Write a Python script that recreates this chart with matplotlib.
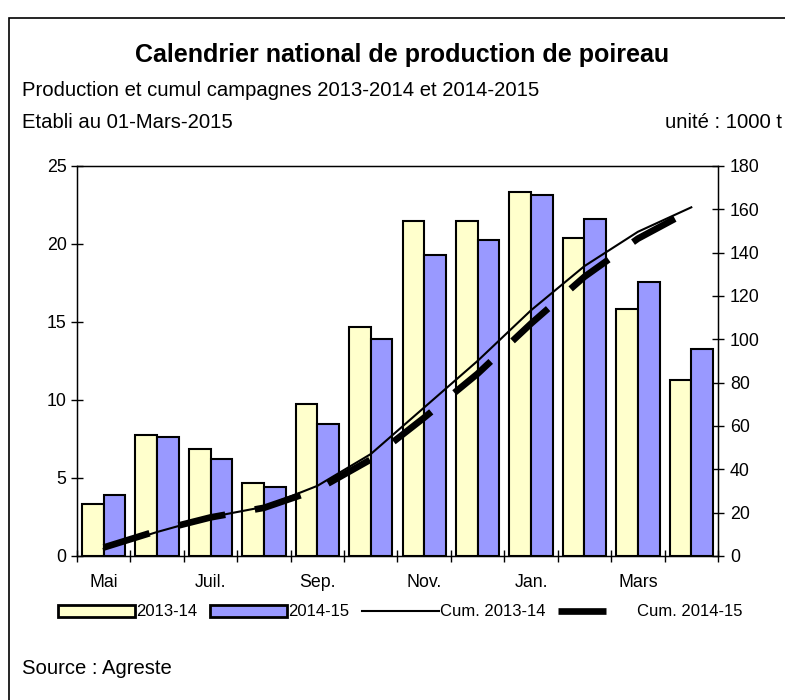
import matplotlib
matplotlib.use("Agg")
import numpy as np
from matplotlib import pyplot as plt
from matplotlib.patches import Rectangle, Patch
from matplotlib.lines import Line2D

plt.rcParams['font.family'] = ['Liberation Sans', 'DejaVu Sans']

months = ["Mai", "Juin", "Juil.", "Août", "Sep.", "Oct.", "Nov.", "Déc.",
          "Jan.", "Fév.", "Mars", "Avr."]
prod_1314 = [3.35, 7.73, 6.88, 4.70, 9.72, 14.68, 21.5, 21.5, 23.36, 20.38, 15.83, 11.3]
prod_1415 = [3.93, 7.65, 6.24, 4.42, 8.44, 13.89, 19.29, 20.28, 23.14, 21.6, 17.59, 13.25]
cum_1314 = np.cumsum(prod_1314)
cum_1415 = np.cumsum(prod_1415)

yellow = "#FFFFCC"
blue = "#9999FF"

fig = plt.figure(figsize=(7.85, 7.0), dpi=100)

# outer frame
fig.patches.append(Rectangle((9 / 785, -0.05), 1.0, 1 - 18 / 700 + 0.05,
                             transform=fig.transFigure, fill=False,
                             edgecolor="black", linewidth=1.2))

ax = fig.add_axes([77 / 785, 1 - 556 / 700, (718 - 77) / 785, (556 - 166) / 700])
x = np.arange(len(months))
w = 0.405
ax.bar(x - w / 2, prod_1314, w, color=yellow, edgecolor="black", linewidth=1.5, zorder=2)
ax.bar(x + w / 2, prod_1415, w, color=blue, edgecolor="black", linewidth=1.5, zorder=2)
ax.set_xlim(-0.5, 11.5)
ax.set_ylim(0, 25)
ax.set_yticks([0, 5, 10, 15, 20, 25])
ax.set_xticks(np.arange(-0.5, 12, 1))
ax.set_xticklabels([])
ax.set_xticks(x[::2], minor=True)
ax.set_xticklabels(months[::2], minor=True)
ax.tick_params(axis="x", which="major", direction="inout", length=9, width=1)
ax.tick_params(axis="x", which="minor", length=0, pad=13, labelsize=12.8)
ax.tick_params(axis="y", direction="inout", length=9, width=1, pad=3, labelsize=12.8)
for s in ax.spines.values():
    s.set_linewidth(1)

ax2 = ax.twinx()
ax2.set_ylim(0, 180)
ax2.set_yticks(range(0, 181, 20))
ax2.tick_params(axis="y", direction="inout", length=9, width=1, pad=4, labelsize=12.8)
ax2.plot(x, cum_1314, color="black", linewidth=1.5, zorder=3)
ax2.plot(x, cum_1415, color="black", linewidth=4.8, dashes=(7.2, 4.5),
         dash_capstyle="butt", zorder=4)

# texts
fig.text(402 / 785, 1 - 55 / 700, "Calendrier national de production de poireau",
         ha="center", va="center", fontsize=18, fontweight="bold")
fig.text(22 / 785, 1 - 90 / 700, "Production et cumul campagnes 2013-2014 et 2014-2015",
         ha="left", va="center", fontsize=14.6)
fig.text(22 / 785, 1 - 123 / 700, "Etabli au 01-Mars-2015",
         ha="left", va="center", fontsize=14.6)
fig.text(782 / 785, 1 - 123 / 700, "unité : 1000 t",
         ha="right", va="center", fontsize=14.6)
fig.text(22 / 785, 1 - 668 / 700, "Source : Agreste",
         ha="left", va="center", fontsize=14.6)

handles = [
    Patch(facecolor=yellow, edgecolor="black", linewidth=2),
    Patch(facecolor=blue, edgecolor="black", linewidth=2),
    Line2D([], [], color="black", linewidth=1.5),
    Line2D([], [], color="black", linewidth=4.8, dashes=(7.2, 4.5), dash_capstyle="butt"),
]
labels = ["2013-14", "2014-15", "Cum. 2013-14", "Cum. 2014-15"]
fig.legend(handles, labels, loc="center left", bbox_to_anchor=(58 / 785, 1 - 612 / 700),
           ncol=4, frameon=False, fontsize=12, handlelength=4.6, handleheight=0.75,
           handletextpad=0.1, columnspacing=0.75, borderpad=0, borderaxespad=0)

fig.savefig("out.png", dpi=100)
